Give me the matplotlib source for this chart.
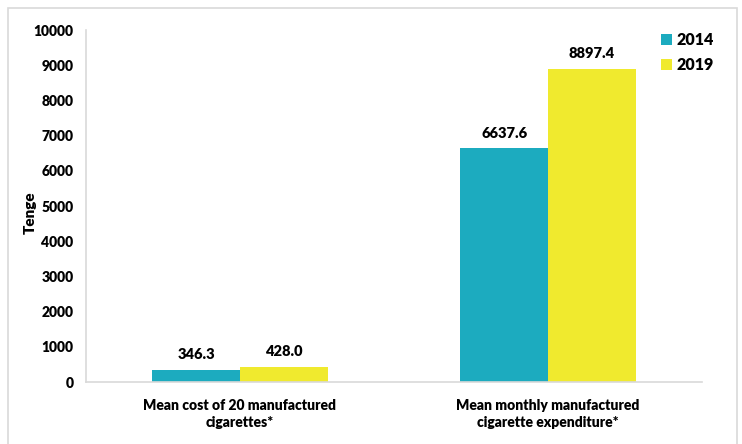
import matplotlib.pyplot as plt
import numpy as np
from matplotlib.patches import Rectangle

# cost and expenditure figures, tenge
categories = ["Mean cost of 20 manufactured\ncigarettes*",
              "Mean monthly manufactured\ncigarette expenditure*"]
years = ["2014", "2019"]
vals_2014 = [346.3, 6637.6]
vals_2019 = [428.0, 8897.4]

plt.rcParams['font.family'] = ['Lato', 'DejaVu Sans']

fig = plt.figure(figsize=(7.42, 4.44), dpi=100)
ax = fig.add_axes([0.1159, 0.1396, 0.946 - 0.1159, 0.9324 - 0.1396])

# light frame around the whole figure
fig.patches.append(Rectangle((8 / 742, -0.05), 729 / 742, 1.05 - 8 / 444,
                             transform=fig.transFigure, fill=False,
                             edgecolor='#d9d9d9', linewidth=1.2))

x = np.arange(len(categories))
w = 0.285
b1 = ax.bar(x - w / 2, vals_2014, w, color='#1cabbf', label=years[0])
b2 = ax.bar(x + w / 2, vals_2019, w, color='#f0ea2e', label=years[1])

for bars, vals in [(b1, vals_2014), (b2, vals_2019)]:
    for r, v in zip(bars, vals):
        ax.text(r.get_x() + r.get_width() / 2, v + 250, f"{v:.1f}",
                ha='center', va='bottom', fontsize=10.5, fontweight='heavy')

ax.set_xlim(-0.5, 1.5)
ax.set_ylim(0, 10000)
ax.set_yticks(range(0, 10001, 1000))
ax.set_xticks(x)
ax.set_xticklabels(categories, fontsize=10, fontweight='heavy', linespacing=1.35)
ax.tick_params(axis='both', length=0)
ax.tick_params(axis='y', pad=9, labelsize=10)
ax.tick_params(axis='x', pad=12)
for lbl in ax.get_yticklabels():
    lbl.set_fontweight('heavy')

for s in ['top', 'right']:
    ax.spines[s].set_visible(False)
for s in ['left', 'bottom']:
    ax.spines[s].set_color('#d9d9d9')
    ax.spines[s].set_linewidth(1.2)

fig.text(30 / 742, 0.52, "Tenge", rotation=90, ha='center', va='center',
         fontsize=11, fontweight='heavy')

ax.legend(loc='upper right', bbox_to_anchor=(1.043, 1.035), frameon=False,
          prop={'size': 11.5, 'weight': 'heavy'}, handlelength=0.7,
          handleheight=0.7, handletextpad=0.3, labelspacing=0.55)

fig.savefig("out.png", dpi=100)
